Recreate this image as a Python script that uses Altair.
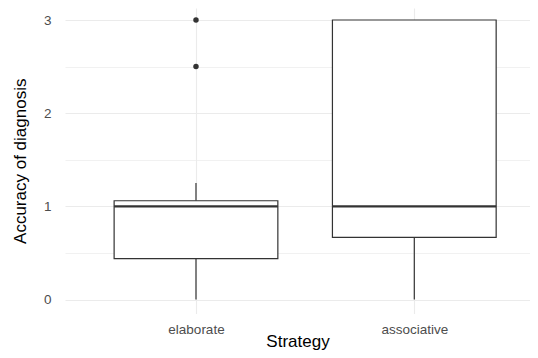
import json
import altair as alt
import pandas as pd

# ---- data ----
strategies = ["elaborate", "associative"]
whisker_low = [0.0, 0.0]
q1 = [0.44, 0.667]
median = [1.0, 1.0]
q3 = [1.06, 3.0]
whisker_high = [1.25, 3.0]
outlier_strategy = ["elaborate", "elaborate"]
outlier_value = [2.5, 3.0]
y_ticks = [0, 0.5, 1, 1.5, 2, 2.5, 3]

half = 0.375
box = pd.DataFrame({
    "strategy": strategies,
    "pos": [i + 1 for i in range(len(strategies))],
    "lo": whisker_low, "q1": q1, "med": median, "q3": q3, "hi": whisker_high,
})
box["left"] = box["pos"] - half
box["right"] = box["pos"] + half
out = pd.DataFrame({
    "strategy": outlier_strategy,
    "pos": [strategies.index(s) + 1 for s in outlier_strategy],
    "value": outlier_value,
})

FONT = "Liberation Sans"
LINE = "#333333"

x_scale = alt.Scale(domain=[0.4, 2.530], nice=False, zero=False)
y_scale = alt.Scale(domain=[-0.15, 3.129], nice=False, zero=False)

x_axis = alt.Axis(
    values=list(range(1, len(strategies) + 1)),
    labelExpr=f"{json.dumps(strategies)}[datum.value - 1]",
    grid=True, gridColor="#ebebeb", gridWidth=1.1,
    domain=False, ticks=False, tickSize=0,
    labelPadding=9, labelFontSize=13.5, labelColor="#4d4d4d", labelFont=FONT,
    titleFontSize=17, titleFont=FONT, titleColor="#000000", titleFontWeight="normal",
    titleBaseline="alphabetic", titleY=32.5,
)
y_axis = alt.Axis(
    values=y_ticks,
    labelExpr="datum.value % 1 === 0 ? format(datum.value, 'd') : ''",
    grid=True, gridColor="#ebebeb",
    gridWidth={"condition": {"test": "datum.value % 1 === 0", "value": 1.1}, "value": 0.7},
    domain=False, ticks=False, tickSize=0,
    labelPadding=14, labelFontSize=13.5, labelColor="#4d4d4d", labelFont=FONT,
    titleFontSize=17, titleFont=FONT, titleColor="#000000", titleFontWeight="normal",
    titleAngle=270, titleBaseline="alphabetic", titleAlign="center",
    titleX=-39.5, titleY=152.75,
)

def X(field):
    return alt.X(f"{field}:Q", scale=x_scale, axis=x_axis, title="Strategy")

def Y(field):
    return alt.Y(f"{field}:Q", scale=y_scale, axis=y_axis, title="Accuracy of diagnosis")

base = alt.Chart(box)

lower_whisker = base.mark_rule(color=LINE, strokeWidth=1.2).encode(
    x=X("pos"), y=Y("lo"), y2="q1:Q")
upper_whisker = base.mark_rule(color=LINE, strokeWidth=1.2).encode(
    x=X("pos"), y=Y("q3"), y2="hi:Q")
boxes = base.mark_bar(fill="white", stroke=LINE, strokeWidth=1.2).encode(
    x=X("left"), x2="right:Q", y=Y("q1"), y2="q3:Q")
medians = base.mark_rule(color=LINE, strokeWidth=2.4).encode(
    x=X("left"), x2="right:Q", y=Y("med"))
points = alt.Chart(out).mark_circle(color=LINE, size=30, opacity=1).encode(
    x=X("pos"), y=Y("value"))

chart = alt.layer(lower_whisker, upper_whisker, boxes, medians, points).properties(
    width=465, height=305.5,
    autosize=alt.AutoSizeParams(type="none"),
    padding={"left": 57, "top": 0, "right": 0, "bottom": 36.5},
).configure(background="white").configure_view(stroke=None)

chart.save("out.html", embed_options={"renderer": "svg", "actions": False})
